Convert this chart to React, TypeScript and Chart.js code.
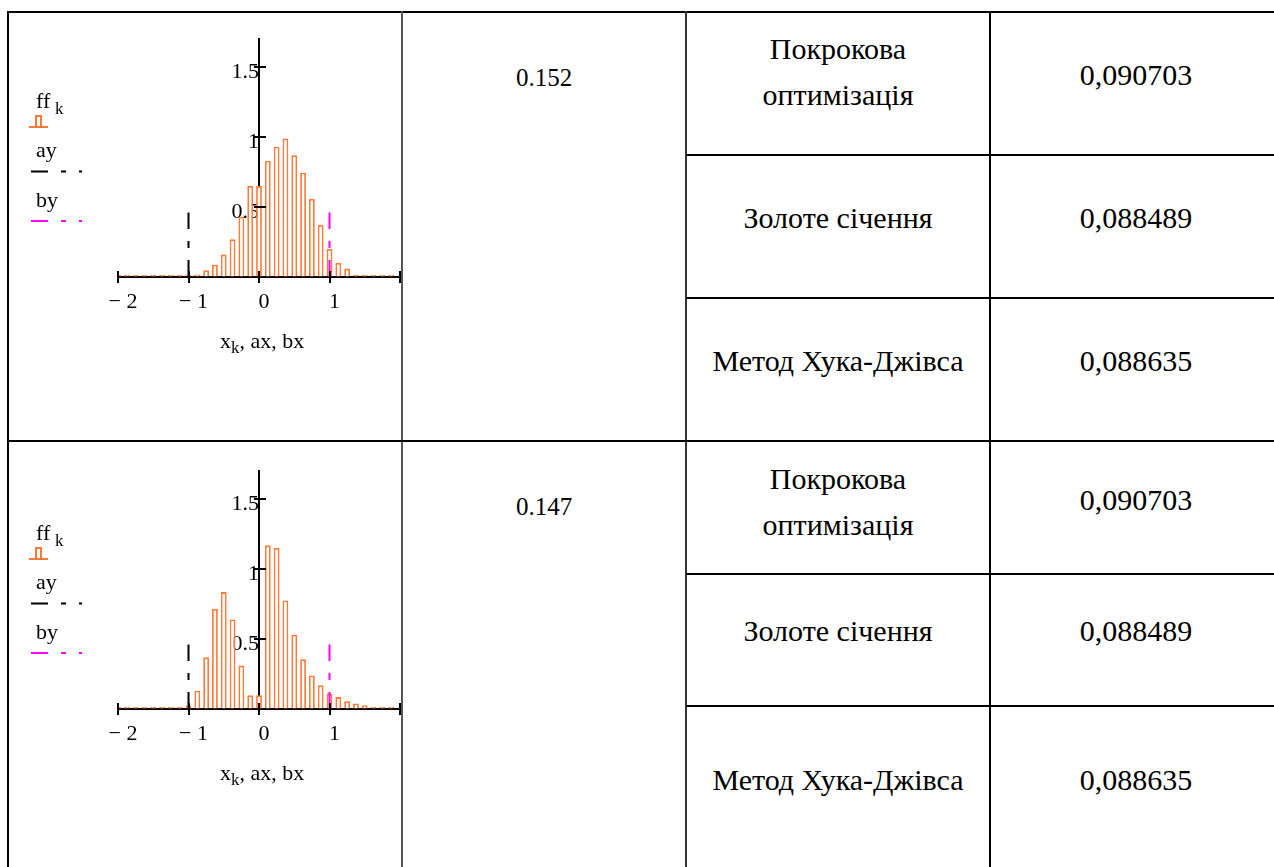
import React, { useEffect, useRef } from 'react';
import { Chart, registerables } from 'chart.js';

Chart.register(...registerables);

// ---------- data ----------
const binX = [-2, -1.875, -1.75, -1.625, -1.5, -1.375, -1.25, -1.125, -1, -0.875, -0.75, -0.625, -0.5, -0.375, -0.25, -0.125, 0, 0.125, 0.25, 0.375, 0.5, 0.625, 0.75, 0.875, 1, 1.125, 1.25, 1.375, 1.5, 1.625, 1.75, 1.875];
const ff1 = [0, 0, 0, 0, 0, 0, 0, 0, 0, 0.017, 0.048, 0.088, 0.16, 0.27, 0.43, 0.65, 0.65, 0.83, 0.93, 0.99, 0.87, 0.745, 0.557, 0.372, 0.2, 0.1, 0.06, 0.015, 0.015, 0, 0, 0];
const ff2 = [0, 0, 0, 0, 0, 0, 0, 0, 0.025, 0.13, 0.37, 0.715, 0.835, 0.64, 0.31, 0.098, 0.098, 1.17, 1.15, 0.775, 0.53, 0.355, 0.24, 0.17, 0.11, 0.085, 0.055, 0.04, 0.027, 0.014, 0.014, 0.014];
const ax = [-1, -1];
const ay = [0, 0.46];
const bx = [1, 1];
const by = [0, 0.46];
const xTicks = [-2, -1, 0, 1, 2];
const yTicks = [0.5, 1, 1.5];
const sigmas = ['0.152', '0.147'];
const methods = [['Покрокова', 'оптимізація'], ['Золоте січення'], ['Метод Хука-Джівса']];
const results = ['0,090703', '0,088489', '0,088635'];

const ORANGE = '#ff7a38';
const MAGENTA = '#ff00ff';
const FONT = '"Liberation Serif", "Times New Roman", serif';

const decor = {
  id: 'mathcadDecor',
  afterDatasetsDraw(chart: any) {
    const { ctx } = chart;
    const xs = chart.scales.x;
    const ys = chart.scales.y;
    const y0 = ys.getPixelForValue(0);
    const x0 = xs.getPixelForValue(0);
    ctx.save();
    ctx.strokeStyle = '#000';
    ctx.lineWidth = 2;
    xTicks.forEach((v) => {
      const px = Math.round(xs.getPixelForValue(v));
      ctx.beginPath();
      ctx.moveTo(px, y0 - 6);
      ctx.lineTo(px, y0 + 6);
      ctx.stroke();
    });
    yTicks.forEach((v) => {
      const py = Math.round(ys.getPixelForValue(v));
      ctx.beginPath();
      ctx.moveTo(x0 - 5, py);
      ctx.lineTo(x0 + 7, py);
      ctx.stroke();
    });
    ctx.restore();
  },
  afterDraw(chart: any) {
    const { ctx } = chart;
    const ds = chart.data.datasets;
    ctx.save();
    ctx.fillStyle = '#000';
    ctx.textBaseline = 'alphabetic';
    ctx.textAlign = 'left';
    // legend
    ctx.font = `22px ${FONT}`;
    ctx.fillText('ff', 27, 95);
    ctx.font = `17px ${FONT}`;
    ctx.fillText('k', 46, 101);
    ctx.strokeStyle = ds[2].borderColor;
    ctx.lineWidth = 2;
    ctx.beginPath();
    ctx.moveTo(20, 114);
    ctx.lineTo(39, 114);
    ctx.stroke();
    ctx.beginPath();
    ctx.moveTo(27, 114);
    ctx.lineTo(27, 103);
    ctx.lineTo(32, 103);
    ctx.lineTo(32, 114);
    ctx.stroke();
    ctx.font = `22px ${FONT}`;
    ctx.fillText('ay', 27, 144);
    ctx.fillText('by', 27, 194);
    ctx.setLineDash([17, 13, 5, 13]);
    ctx.strokeStyle = ds[0].borderColor;
    ctx.beginPath();
    ctx.moveTo(22, 158.5);
    ctx.lineTo(73, 158.5);
    ctx.stroke();
    ctx.strokeStyle = ds[1].borderColor;
    ctx.beginPath();
    ctx.moveTo(22, 208);
    ctx.lineTo(73, 208);
    ctx.stroke();
    ctx.setLineDash([]);
    // x axis title
    let x = 211;
    ctx.font = `22px ${FONT}`;
    ctx.fillText('x', x, 335);
    x += ctx.measureText('x').width;
    ctx.font = `17px ${FONT}`;
    ctx.fillText('k', x, 340);
    x += ctx.measureText('k').width;
    ctx.font = `22px ${FONT}`;
    ctx.fillText(', ax, bx', x, 335);
    ctx.restore();
  },
};

function Histogram({ ff, top, height }: { ff: number[]; top: number; height: number }) {
  const ref = useRef<HTMLCanvasElement>(null);
  useEffect(() => {
    const chart = new Chart(ref.current as HTMLCanvasElement, {
      type: 'bar',
      data: {
        datasets: [
          {
            type: 'line',
            label: 'ay',
            data: ax.map((v, i) => ({ x: v, y: ay[i] })),
            borderColor: '#000',
            borderWidth: 2,
            borderDash: [17, 12, 7, 12],
            pointRadius: 0,
            fill: false,
            order: 0,
          } as any,
          {
            type: 'line',
            label: 'by',
            data: bx.map((v, i) => ({ x: v, y: by[i] })),
            borderColor: MAGENTA,
            borderWidth: 2,
            borderDash: [17, 12, 7, 12],
            pointRadius: 0,
            fill: false,
            order: 0,
          } as any,
          {
            type: 'bar',
            label: 'ff',
            data: binX.map((v, i) => ({ x: v, y: ff[i] })),
            backgroundColor: '#ffffff',
            borderColor: ORANGE,
            borderWidth: 1.8,
            minBarLength: 2,
            barPercentage: 0.66,
            categoryPercentage: 1,
            order: 1,
          } as any,
        ],
      },
      options: {
        animation: false,
        responsive: false,
        layout: { padding: { left: 109, right: 49, top: 26, bottom: 156 } },
        plugins: { legend: { display: false }, tooltip: { enabled: false } },
        scales: {
          x: {
            type: 'linear',
            position: { y: 0 } as any,
            min: -2,
            max: 2,
            offset: false,
            grid: { display: true, drawOnChartArea: false, drawTicks: false, offset: false },
            border: { display: true, color: '#000', width: 2 },
            ticks: {
              stepSize: 1,
              padding: 12,
              labelOffset: 5,
              color: '#000',
              font: { family: FONT, size: 22 },
              callback: (v: any) => (v === 2 ? '' : v < 0 ? '\u2212 ' + Math.abs(v) : String(v)),
            },
          },
          y: {
            type: 'linear',
            position: { x: 0 } as any,
            min: 0,
            max: 1.7,
            grid: { display: true, drawOnChartArea: false, drawTicks: false },
            border: { display: true, color: '#000', width: 2 },
            ticks: {
              stepSize: 0.5,
              includeBounds: false,
              padding: 4,
              labelOffset: 5,
              color: '#000',
              font: { family: FONT, size: 22 },
              callback: (v: any) => (v === 0 ? '' : String(v)),
            },
          },
        },
      } as any,
      plugins: [decor],
    });
    return () => chart.destroy();
  }, [ff]);
  return (
    <div style={{ position: 'absolute', left: 9, top, width: 392, height, overflow: 'hidden' }}>
      <canvas ref={ref} width={440} height={420} style={{ display: 'block' }} />
    </div>
  );
}

function Line({ x, y, w, h, c = '#000' }: { x: number; y: number; w: number; h: number; c?: string }) {
  return <div style={{ position: 'absolute', left: x, top: y, width: w, height: h, background: c }} />;
}

function Txt({ left, width, top, size, children }: any) {
  return (
    <div
      style={{
        position: 'absolute',
        left,
        width,
        top,
        textAlign: 'center',
        fontSize: size,
        lineHeight: '34px',
        whiteSpace: 'nowrap',
        color: '#000',
      }}
    >
      {children}
    </div>
  );
}

export default function App() {
  const rowTop = [0, 432];
  return (
    <div
      style={{
        position: 'absolute',
        left: 0,
        top: 0,
        width: 1274,
        height: 867,
        overflow: 'hidden',
        background: '#fff',
        fontFamily: FONT,
      }}
    >
      {/* borders */}
      <Line x={7} y={11} w={1267} h={2} />
      <Line x={7} y={11} w={2} h={856} />
      <Line x={401} y={11} w={2} h={856} c="#555" />
      <Line x={685} y={11} w={2} h={856} c="#333" />
      <Line x={989} y={11} w={2} h={856} />
      <Line x={7} y={440} w={1267} h={2} />
      <Line x={686} y={154} w={588} h={2} />
      <Line x={686} y={297} w={588} h={2} />
      <Line x={686} y={573} w={588} h={2} />
      <Line x={686} y={705} w={588} h={2} />

      <Histogram ff={ff1} top={13} height={427} />
      <Histogram ff={ff2} top={445} height={422} />

      {/* sigma column */}
      <div style={{ position: 'absolute', left: 402, width: 284, top: 63, textAlign: 'center', fontSize: 25, lineHeight: '30px' }}>{sigmas[0]}</div>
      <div style={{ position: 'absolute', left: 402, width: 284, top: 492, textAlign: 'center', fontSize: 25, lineHeight: '30px' }}>{sigmas[1]}</div>

      {rowTop.map((off, r) => (
        <React.Fragment key={r}>
          <Txt left={686} width={304} top={32 + off - (r ? 2 : 0)} size={30}>{methods[0][0]}</Txt>
          <Txt left={686} width={304} top={78 + off - (r ? 2 : 0)} size={30}>{methods[0][1]}</Txt>
          <Txt left={990} width={292} top={58 + off - (r ? 7 : 0)} size={30}>{results[0]}</Txt>
          <Txt left={686} width={304} top={201 + off - (r ? 19 : 0)} size={30}>{methods[1][0]}</Txt>
          <Txt left={990} width={292} top={201 + off - (r ? 19 : 0)} size={30}>{results[1]}</Txt>
          <Txt left={686} width={304} top={344 + off - (r ? 13 : 0)} size={30}>{methods[2][0]}</Txt>
          <Txt left={990} width={292} top={344 + off - (r ? 13 : 0)} size={30}>{results[2]}</Txt>
        </React.Fragment>
      ))}
    </div>
  );
}
